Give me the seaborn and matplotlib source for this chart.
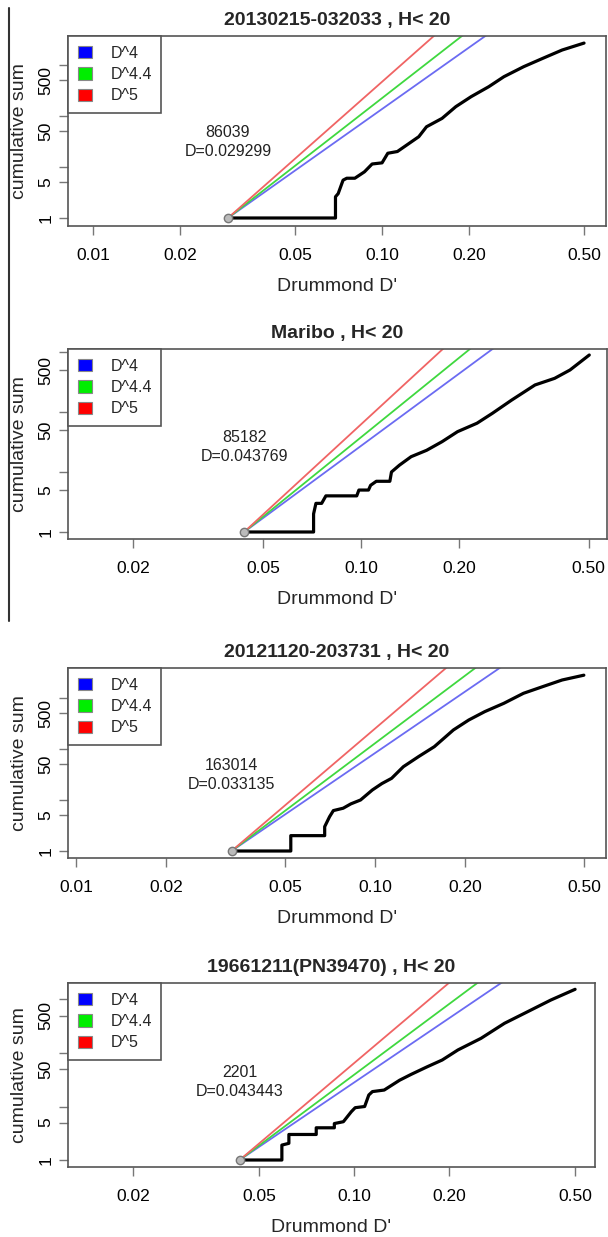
import numpy as np
import pandas as pd
import seaborn as sns
import matplotlib.pyplot as plt
from matplotlib.patches import Patch
from matplotlib.lines import Line2D
from matplotlib.ticker import NullLocator

# panel titles and header numbers
titles = ['20130215-032033 , H< 20', 'Maribo , H< 20',
          '20121120-203731 , H< 20', '19661211(PN39470) , H< 20']
n_counts = ['86039', '85182', '163014', '2201']
d_min = [0.029299, 0.043769, 0.033135, 0.043443]

# reference power laws
exponents = [4, 4.4, 5]
law_labels = ['D^4', 'D^4.4', 'D^5']

# cumulative sums
d1 = [0.029299, 0.069, 0.069, 0.0705, 0.0733, 0.0755, 0.0805, 0.0869, 0.0924, 0.100, 0.1047,
      0.113, 0.134, 0.1425, 0.1613, 0.180, 0.2034, 0.234, 0.264, 0.309, 0.360, 0.420, 0.500]
s1 = [1, 1, 2.6, 3, 5.5, 6, 6, 8, 11.4, 12, 18.5, 20, 39, 61, 89, 151, 237, 371, 582, 914,
      1333, 1939, 2650]

d2 = [0.043769, 0.0715, 0.0715, 0.0727, 0.0757, 0.078, 0.097, 0.0985, 0.1054, 0.107, 0.1114,
      0.1226, 0.124, 0.1312, 0.1425, 0.159, 0.1773, 0.1978, 0.227, 0.253, 0.290, 0.342, 0.393,
      0.438, 0.502]
s2 = [1, 1, 2, 3, 3, 4, 4, 5, 5, 6, 7, 7, 10, 13, 18, 23, 32, 47, 65, 95, 158, 282, 364, 501, 891]

d3 = [0.033135, 0.0523, 0.0523, 0.0679, 0.0679, 0.0705, 0.0726, 0.0783, 0.0831, 0.0895, 0.098,
      0.1055, 0.1137, 0.1245, 0.140, 0.158, 0.183, 0.206, 0.233, 0.270, 0.314, 0.364, 0.423, 0.500]
s3 = [1, 1, 2, 2, 3, 4.7, 6.2, 6.9, 8.4, 10, 15.7, 21, 26.6, 45, 71, 111, 236, 370, 540, 787,
      1236, 1668, 2254, 2800]

d4 = [0.043443, 0.0591, 0.0591, 0.0622, 0.0622, 0.0759, 0.0759, 0.0866, 0.0866, 0.0925, 0.098,
      0.1008, 0.108, 0.1113, 0.1143, 0.1245, 0.1393, 0.1517, 0.170, 0.190, 0.213, 0.252, 0.299,
      0.354, 0.419, 0.500]
s4 = [1, 1, 1.9, 2.05, 3, 3, 4, 4, 4.8, 5.2, 8, 9.5, 10, 16.4, 19, 20.3, 31, 40, 55, 74, 114,
      188, 359, 592, 977, 1550]

curves_d = [d1, d2, d3, d4]
curves_s = [s1, s2, s3, s4]

x_ticks = [0.01, 0.02, 0.05, 0.10, 0.20, 0.50]
x_tick_labels = ['0.01', '0.02', '0.05', '0.10', '0.20', '0.50']
y_ticks = [1, 5, 10, 50, 100, 500, 1000]
y_tick_labels = ['1', '5', '', '50', '', '500', '']

# layout (pixels in the 608x1237 picture) and axis ranges
W, H = 608, 1237
boxes = [(68, 36, 606, 226), (68, 349, 607, 539), (68, 668, 606, 858), (68, 983, 595, 1167)]
xlims = [(0.00819, 0.5956), (0.0126, 0.569), (0.0094, 0.593), (0.01245, 0.578)]
ylims = [(0.697, 3646), (0.764, 1122), (0.729, 3873), (0.74, 2034)]
note_y = [31, 26, 31, 29]

line_colors = {'D^4': '#6b6bf2', 'D^4.4': '#3fd83f', 'D^5': '#f06464'}
fill_colors = ['#0000ff', '#00ee00', '#ff0000']

sns.set_style('ticks')
plt.rcParams['font.family'] = ['Liberation Sans', 'DejaVu Sans']

fig = plt.figure(figsize=(W / 100, H / 100), dpi=100)

for i in range(4):
    l, t, r, b = boxes[i]
    ax = fig.add_axes([l / W, 1 - b / H, (r - l) / W, (b - t) / H])
    d0 = d_min[i]

    # power-law reference lines starting at (D_min, 1)
    rows = []
    for k, lab in zip(exponents, law_labels):
        for x in [d0, 1.0]:
            rows.append({'D': x, 'S': (x / d0) ** k, 'law': lab})
    sns.lineplot(data=pd.DataFrame(rows), x='D', y='S', hue='law', palette=line_colors,
                 lw=1.3, legend=False, estimator=None, sort=False, ax=ax)

    sns.lineplot(x=curves_d[i], y=curves_s[i], color='black', lw=2.3,
                 estimator=None, sort=False, ax=ax)
    ax.plot([d0], [1], 'o', ms=6, mfc='#bbbbbb', mec='#777777', mew=1, zorder=5)

    ax.set_xscale('log')
    ax.set_yscale('log')
    ax.set_xticks(x_ticks)
    ax.set_xticklabels(x_tick_labels)
    ax.set_yticks(y_ticks)
    ax.set_yticklabels(y_tick_labels, rotation=90, va='center')
    ax.xaxis.set_minor_locator(NullLocator())
    ax.yaxis.set_minor_locator(NullLocator())
    # limits after the ticks, so the ticks do not widen the view
    ax.set_xlim(*xlims[i])
    ax.set_ylim(*ylims[i])
    ax.tick_params(axis='both', direction='out', length=6.5, width=1, color='#777777',
                   labelsize=12.5, labelcolor='black')
    ax.tick_params(axis='x', pad=9)
    ax.tick_params(axis='y', pad=4)
    for sp in ax.spines.values():
        sp.set_color('#555555')
        sp.set_linewidth(1.2)

    ax.set_title(titles[i], fontsize=14, fontweight='bold', pad=8)
    ax.set_xlabel("Drummond D'", fontsize=14)
    ax.set_ylabel('cumulative sum', fontsize=14)
    ax.xaxis.set_label_coords(0.5, -52 / (b - t))
    ax.yaxis.set_label_coords(-40 / (r - l), 0.5)

    ax.text(d0, note_y[i], f'{n_counts[i]}\nD={d0:.6f}', ha='center', va='center',
            fontsize=11.5, linespacing=1.35, color='#222222')

    handles = [Patch(facecolor=c, edgecolor='#888888', lw=0.8) for c in fill_colors]
    leg = ax.legend(handles, law_labels, loc='upper left', bbox_to_anchor=(0, 1),
                    borderaxespad=0, fancybox=False, fontsize=11.5, handlelength=0.9,
                    handleheight=0.8, handletextpad=1.15, labelspacing=0.4, borderpad=0.6)
    leg.get_frame().set_edgecolor('#555555')
    leg.get_frame().set_linewidth(1.2)
    leg.get_frame().set_alpha(1)

# divider line on the left of the top two panels
fig.add_artist(Line2D([9 / W, 9 / W], [1 - 8 / H, 1 - 621 / H], color='#333333', lw=1.5))

fig.savefig('out.png', dpi=100)
